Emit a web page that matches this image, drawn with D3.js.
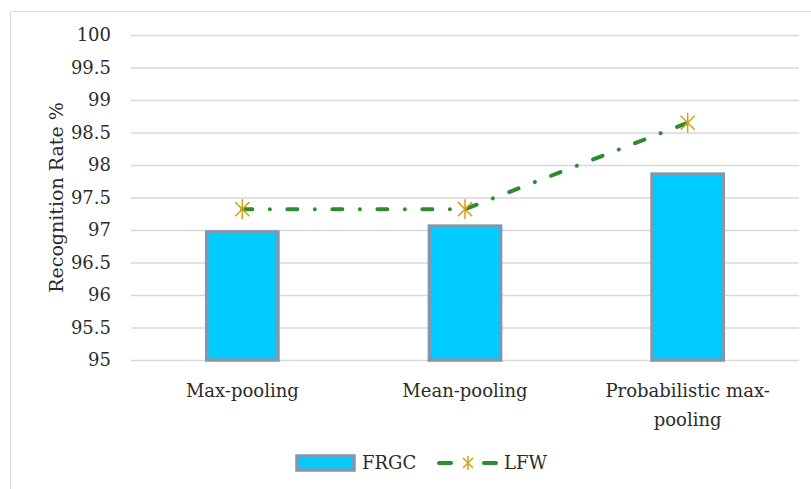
<!DOCTYPE html>
<html>
<head>
<meta charset="utf-8">
<script src="https://cdn.jsdelivr.net/npm/d3@7"></script>
<style>
  html, body { margin: 0; padding: 0; background: #fff; }
  svg { display: block; }
  text { font-family: "DejaVu Serif", "Liberation Serif", serif; fill: #2b2b2b; }
</style>
</head>
<body>
<svg id="chart" width="811" height="489"></svg>
<script>
// ---- data ----
const categories = ["Max-pooling", "Mean-pooling", "Probabilistic max-pooling"];
const frgcValues = [96.97, 97.06, 97.86];
const lfwValues = [97.32, 97.32, 98.65];
const yTicks = [95, 95.5, 96, 96.5, 97, 97.5, 98, 98.5, 99, 99.5, 100];
const seriesNames = ["FRGC", "LFW"];
const yTitle = "Recognition Rate %";

// ---- layout ----
const W = 811, H = 489;
const plot = { left: 131, right: 799, top: 35, bottom: 360 };
const svg = d3.select("#chart");

svg.append("rect")
  .attr("x", 10.5).attr("y", 11.5)
  .attr("width", W).attr("height", H)
  .attr("fill", "none").attr("stroke", "#d9d9d9").attr("stroke-width", 1);

const x = d3.scaleBand().domain(categories).range([plot.left, plot.right]).padding(0);
const y = d3.scaleLinear().domain([95, 100]).range([plot.bottom, plot.top]);

// gridlines
const yAxis = d3.axisLeft(y).tickValues(yTicks).tickSize(0).tickPadding(0).tickFormat(d3.format(""));
const gy = svg.append("g").attr("transform", `translate(${plot.left},0)`).call(yAxis);
gy.select(".domain").remove();
gy.selectAll(".tick text")
  .attr("x", -20)
  .attr("font-size", 18)
  .attr("font-family", "DejaVu Serif")
  .attr("fill", "#2b2b2b");
gy.selectAll(".tick line")
  .attr("x2", plot.right - plot.left)
  .attr("stroke", "#d9d9d9")
  .attr("stroke-width", 1.5);

// y title
svg.append("text")
  .attr("transform", `translate(63,${(plot.top + plot.bottom) / 2}) rotate(-90)`)
  .attr("text-anchor", "middle")
  .attr("font-size", 19)
  .text(yTitle);

// bars
const barW = x.bandwidth() * 0.32;
svg.append("g").selectAll("rect")
  .data(categories.map((c, i) => ({ c, v: frgcValues[i] })))
  .join("rect")
  .attr("x", d => x(d.c) + x.bandwidth() / 2 - barW / 2)
  .attr("y", d => y(d.v))
  .attr("width", barW)
  .attr("height", d => y(95) - y(d.v))
  .attr("fill", "#00ccff")
  .attr("stroke", "#7f98b0")
  .attr("stroke-width", 3.5);

// LFW line
const lfwPts = categories.map((c, i) => ({ c, v: lfwValues[i] }));
const line = d3.line().x(d => x(d.c) + x.bandwidth() / 2).y(d => y(d.v));
svg.append("path")
  .datum(lfwPts)
  .attr("d", line)
  .attr("fill", "none")
  .attr("stroke", "#2e8b2e")
  .attr("stroke-width", 4)
  .attr("stroke-linecap", "round")
  .attr("stroke-dasharray", "10 17.5 0.01 17.5");

function star(g, cx, cy, r) {
  const s = g.append("g").attr("transform", `translate(${cx},${cy})`)
    .attr("stroke", "#d4a017").attr("stroke-width", 1.5);
  const d = r * Math.SQRT1_2;
  s.append("line").attr("x1", 0).attr("y1", -r).attr("x2", 0).attr("y2", r);
  s.append("line").attr("x1", -d).attr("y1", -d).attr("x2", d).attr("y2", d);
  s.append("line").attr("x1", -d).attr("y1", d).attr("x2", d).attr("y2", -d);
}
const mk = svg.append("g");
lfwPts.forEach(d => star(mk, x(d.c) + x.bandwidth() / 2, y(d.v), 10));

// category labels
function splitLabel(s) {
  if (s.length > 20) {
    const k = s.lastIndexOf("-");
    return [s.slice(0, k + 1), s.slice(k + 1)];
  }
  return [s];
}
const xl = svg.append("g");
categories.forEach(c => {
  const lines = splitLabel(c);
  const t = xl.append("text")
    .attr("text-anchor", "middle")
    .attr("font-size", 18)
    .attr("x", x(c) + x.bandwidth() / 2)
    .attr("y", 397);
  lines.forEach((l, i) => {
    t.append("tspan").attr("x", x(c) + x.bandwidth() / 2).attr("dy", i === 0 ? 0 : 29).text(l);
  });
});

// legend
const lg = svg.append("g");
lg.append("rect").attr("x", 297).attr("y", 456).attr("width", 57).attr("height", 14)
  .attr("fill", "#00ccff").attr("stroke", "#7f98b0").attr("stroke-width", 3.5);
lg.append("text").attr("x", 362).attr("y", 469).attr("font-size", 18).text(seriesNames[0]);
lg.append("line").attr("x1", 439).attr("y1", 463).attr("x2", 451).attr("y2", 463)
  .attr("stroke", "#2e8b2e").attr("stroke-width", 4).attr("stroke-linecap", "round");
lg.append("line").attr("x1", 484).attr("y1", 463).attr("x2", 496).attr("y2", 463)
  .attr("stroke", "#2e8b2e").attr("stroke-width", 4).attr("stroke-linecap", "round");
star(lg, 468, 463, 7);
lg.append("text").attr("x", 504).attr("y", 469).attr("font-size", 18).text(seriesNames[1]);
</script>
</body>
</html>
